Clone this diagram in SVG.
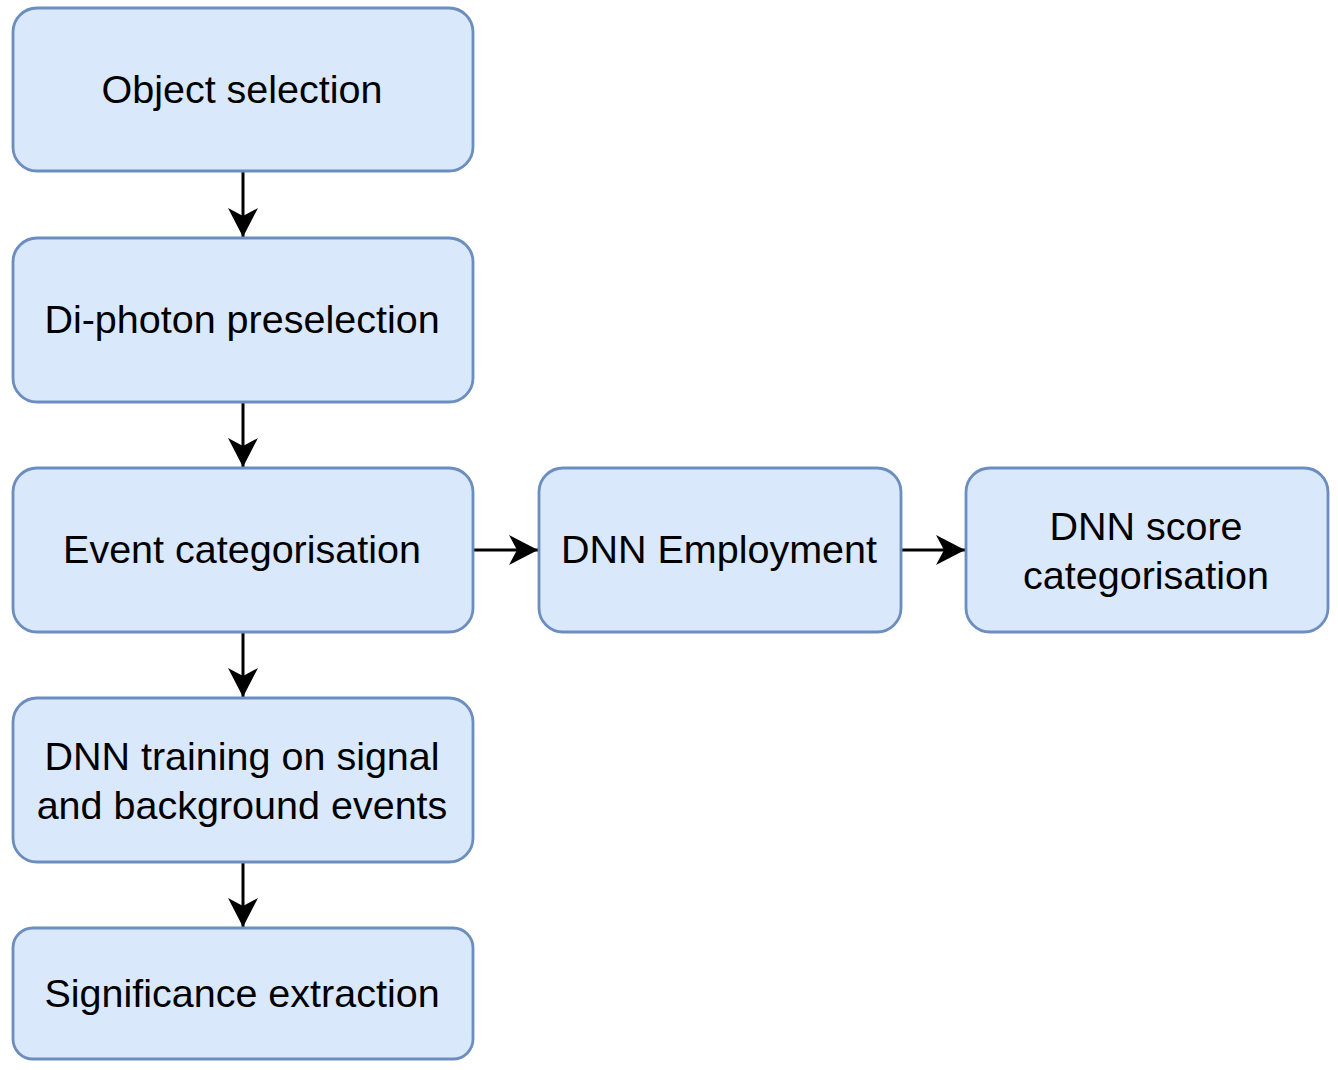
<svg xmlns="http://www.w3.org/2000/svg" width="1338" height="1070" viewBox="0 0 1338 1070">
<defs>
<style>
.box{fill:#dae8fc;stroke:#6c8ebf;stroke-width:2.8}
.lbl{font-family:"Liberation Sans",Arial,sans-serif;font-size:39.5px;fill:#000;text-anchor:middle}
.edge{stroke:#000;stroke-width:3;fill:none}
</style>
<marker id="arr" markerUnits="userSpaceOnUse" markerWidth="32" markerHeight="32" viewBox="-30 -16 32 32" refX="0" refY="0" orient="auto">
<path d="M0,0 L-29,-15 L-21,0 L-29,15 Z" fill="#000"/>
</marker>
</defs>
<rect width="1338" height="1070" fill="#fff"/>
<g id="connectors">
<line class="edge" x1="243" y1="171" x2="243" y2="237" marker-end="url(#arr)"/>
<line class="edge" x1="243" y1="402" x2="243" y2="467" marker-end="url(#arr)"/>
<line class="edge" x1="243" y1="632" x2="243" y2="697" marker-end="url(#arr)"/>
<line class="edge" x1="243" y1="862" x2="243" y2="927" marker-end="url(#arr)"/>
<line class="edge" x1="473" y1="550" x2="538" y2="550" marker-end="url(#arr)"/>
<line class="edge" x1="901" y1="550" x2="965" y2="550" marker-end="url(#arr)"/>
</g>
<g id="n1"><rect class="box" x="13" y="8" width="460" height="163" rx="24"/><text class="lbl" x="242" y="103">Object selection</text></g>
<g id="n2"><rect class="box" x="13" y="238" width="460" height="164" rx="24"/><text class="lbl" x="242" y="333">Di-photon preselection</text></g>
<g id="n3"><rect class="box" x="13" y="468" width="460" height="164" rx="24"/><text class="lbl" x="242" y="563">Event categorisation</text></g>
<g id="n4"><rect class="box" x="13" y="698" width="460" height="164" rx="24"/><text class="lbl" x="242" y="770">DNN training on signal</text><text class="lbl" x="242" y="819">and background events</text></g>
<g id="n5"><rect class="box" x="13" y="928" width="460" height="131" rx="20"/><text class="lbl" x="242" y="1007">Significance extraction</text></g>
<g id="n6"><rect class="box" x="539" y="468" width="362" height="164" rx="24"/><text class="lbl" x="719" y="563">DNN Employment</text></g>
<g id="n7"><rect class="box" x="966" y="468" width="362" height="164" rx="24"/><text class="lbl" x="1146" y="540">DNN score</text><text class="lbl" x="1146" y="589">categorisation</text></g>
</svg>
